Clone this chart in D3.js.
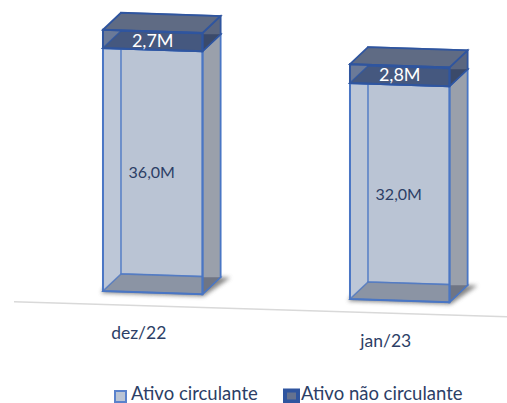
<!DOCTYPE html>
<html>
<head>
<meta charset="utf-8">
<script src="https://cdn.jsdelivr.net/npm/d3@7/dist/d3.min.js"></script>
<style>
html, body { margin: 0; padding: 0; background: #fff; overflow: hidden; }
text { font-family: Lato, "Open Sans", sans-serif; }
</style>
</head>
<body>
<div id="chart"></div>
<script>
var categories = ['dez/22', 'jan/23']
var ativoCirculante = [36.0, 32.0]
var ativoNaoCirculante = [2.7, 2.8]
var labelsCirculante = ['36,0M', '32,0M']
var labelsNaoCirculante = ['2,7M', '2,8M']
var seriesNames = ['Ativo circulante', 'Ativo não circulante']

var width = 507, height = 403
var svg = d3.select('#chart').append('svg').attr('width', width).attr('height', height)

var xScale = d3.scaleBand().domain(categories).range([29.25, 523.25]).paddingInner(0.597).paddingOuter(0.2985)
var yScale = d3.scaleLinear().domain([0, 40]).range([291, 21])

// the whole plot leans a little and has a fixed depth
var slope = 0.0325
var depth = { x: 18, y: -17 }

function pt(x, y, back) {
    var px = x + (back ? depth.x : 0)
    var py = y + (x - xScale(categories[0])) * slope + (back ? depth.y : 0)
    return px + ',' + py
}

function poly(points) {
    return points.join(' ')
}

svg.append('defs').append('filter').attr('id', 'soft')
    .attr('x', '-20%').attr('y', '-40%').attr('width', '140%').attr('height', '180%')
    .append('feGaussianBlur').attr('stdDeviation', 2.2)

var bw = xScale.bandwidth()

// axis line
svg.append('line')
    .attr('x1', 14).attr('y1', yScale(-2) + (14 - xScale(categories[0])) * 0.0305)
    .attr('x2', 507).attr('y2', yScale(-2) + (507 - xScale(categories[0])) * 0.0305)
    .attr('stroke', '#d9d9d9').attr('stroke-width', 1.6)

function drawBox(g, x0, x1, y0, y1, c) {
    // left, back, floor, right, lid, front
    g.append('polygon').attr('points', poly([pt(x0, y1), pt(x0, y1, 1), pt(x0, y0, 1), pt(x0, y0)]))
        .attr('fill', c.left).attr('stroke', 'none')
    g.append('polygon').attr('points', poly([pt(x0, y1, 1), pt(x1, y1, 1), pt(x1, y0, 1), pt(x0, y0, 1)]))
        .attr('fill', c.back).attr('stroke', c.edge).attr('stroke-opacity', 0.75).attr('stroke-width', 1.8)
    g.append('polygon').attr('points', poly([pt(x0, y0), pt(x1, y0), pt(x1, y0, 1), pt(x0, y0, 1)]))
        .attr('fill', c.floor).attr('stroke', c.edge).attr('stroke-opacity', 0.75).attr('stroke-width', 1.6)
    g.append('polygon').attr('points', poly([pt(x1, y1), pt(x1, y1, 1), pt(x1, y0, 1), pt(x1, y0)]))
        .attr('fill', c.right).attr('stroke', 'none')
    // corner where the floor shows through the side
    g.append('polygon').attr('points', poly([pt(x1, y0), pt(x1, y0, 1), pt(x1, y0 + depth.y)]))
        .attr('fill', c.corner)
    g.append('polygon').attr('points', poly([pt(x1, y1), pt(x1, y1, 1), pt(x1, y0, 1), pt(x1, y0)]))
        .attr('fill', 'none').attr('stroke', c.edge).attr('stroke-width', 1.6)
    g.append('polygon').attr('points', poly([pt(x0, y1), pt(x1, y1), pt(x1, y1, 1), pt(x0, y1, 1)]))
        .attr('fill', c.lid).attr('stroke', c.edge).attr('stroke-width', 1.8)
    g.append('polygon').attr('points', poly([pt(x0, y1), pt(x1, y1), pt(x1, y0), pt(x0, y0)]))
        .attr('fill', 'none').attr('stroke', c.edge).attr('stroke-width', 2)
}

var lightStyle = {
    edge: '#4a76c4',
    back: '#bac4d4', left: '#bdc7d7', floor: '#8b94a4',
    right: '#9aa0ab', corner: '#6f7584', lid: 'none'
}
var darkStyle = {
    edge: '#2f559f',
    back: '#5f6b84', left: '#6b7a98', floor: '#45587f',
    right: '#5a6680', corner: '#3b4a6a', lid: '#5f6b84'
}

categories.forEach(function(cat, i) {
    var x0 = xScale(cat)
    var x1 = x0 + bw
    var g = svg.append('g')

    // floor shadow
    g.append('polygon')
        .attr('points', poly([pt(x0 - 2, yScale(0) + 2), pt(x1 + 1, yScale(0) + 2), pt(x1 + 10, yScale(0) - 0, 1), pt(x0 - 8, yScale(0) + 2, 1)]))
        .attr('fill', '#5c5c5c').attr('opacity', 0.75).attr('filter', 'url(#soft)')

    var top = ativoCirculante[i] + ativoNaoCirculante[i]
    drawBox(g, x0, x1, yScale(0), yScale(ativoCirculante[i]), lightStyle)
    drawBox(g, x0, x1, yScale(ativoCirculante[i]), yScale(top), darkStyle)

    var cx = x0 + bw / 2
    var lean = (cx - xScale(categories[0])) * slope
    g.append('text').attr('x', cx - 1).attr('y', yScale(ativoCirculante[i] / 2) + lean + 7)
        .attr('text-anchor', 'middle').attr('font-size', 16).attr('fill', '#2c3e66')
        .text(labelsCirculante[i])
    g.append('text').attr('x', cx).attr('y', yScale(ativoCirculante[i] + ativoNaoCirculante[i] / 2) + lean + 6)
        .attr('text-anchor', 'middle').attr('font-size', 18).attr('fill', '#fff')
        .text(labelsNaoCirculante[i])

    svg.append('text').attr('x', cx - 14).attr('y', yScale(0) + lean + 46)
        .attr('text-anchor', 'middle').attr('font-size', 17.5).attr('fill', '#2c3e66')
        .text(cat)
})

// legend
var legendX = [115, 285]
var legendY = [391, 390.5]
var legendW = [11, 13]
var legendH = [11, 11]
var legendTextX = [131, 301]
var legendFill = ['#bac4d4', '#65728f']
var legendEdge = ['#5a82cc', '#2f559f']
var legendStroke = [2, 4]
seriesNames.forEach(function(name, i) {
    svg.append('rect').attr('x', legendX[i]).attr('y', legendY[i]).attr('width', legendW[i]).attr('height', legendH[i])
        .attr('fill', legendFill[i]).attr('stroke', legendEdge[i]).attr('stroke-width', legendStroke[i])
    svg.append('text').attr('x', legendTextX[i]).attr('y', 399.5)
        .attr('font-size', 18.5).attr('fill', '#2c3e66').text(name)
})
</script>
</body>
</html>
